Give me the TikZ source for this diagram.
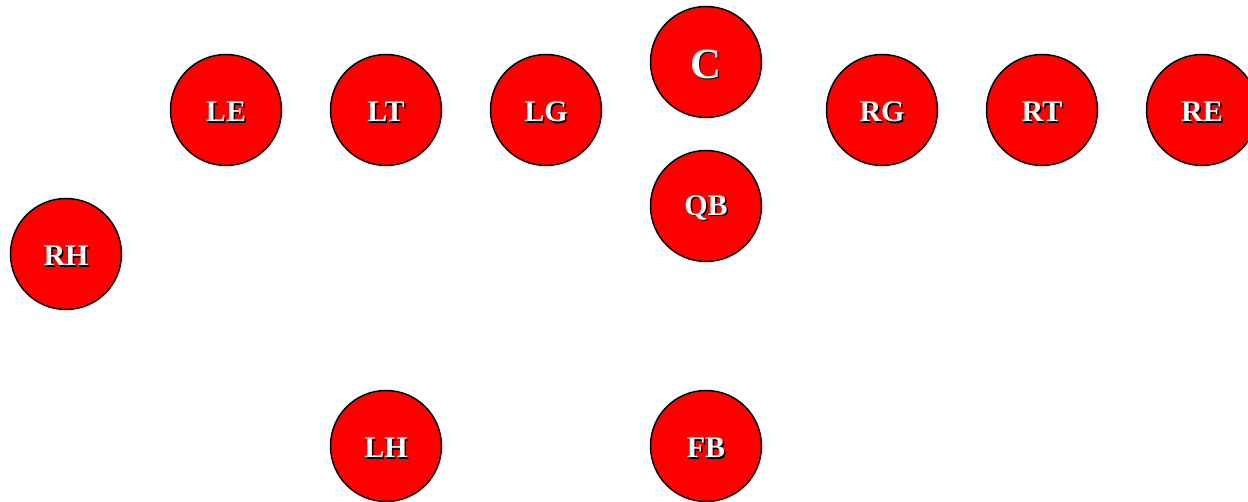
\documentclass[tikz,border=0pt]{standalone}
\usepackage{fontspec}
\setmainfont{Liberation Serif}
\begin{document}
\begin{tikzpicture}[x=1pt,y=-1pt,
  player/.style={circle,draw=black,line width=1.5pt,fill=red,minimum size=111pt,inner sep=0pt},
  lbl/.style={font=\bfseries\fontsize{30}{30}\selectfont},
  biglbl/.style={font=\bfseries\fontsize{43}{43}\selectfont}]
\useasboundingbox (0,0) rectangle (1248,502);
\newcommand\plr[4]{%
  \node[player] (#1) at (#2,#3) {};
  \node[#4,text=black] at ([shift={(1.5pt,-3.5pt)}]#1.center) {#1};
  \node[#4,text=white] at ([shift={(0pt,-2pt)}]#1.center) {#1};}
\plr{LE}{226}{110}{lbl}
\plr{LT}{386}{110}{lbl}
\plr{LG}{546}{110}{lbl}
\plr{C}{706}{62}{biglbl}
\plr{RG}{882}{110}{lbl}
\plr{RT}{1042}{110}{lbl}
\plr{RE}{1202}{110}{lbl}
\plr{QB}{706}{206}{lbl}
\plr{RH}{66}{254}{lbl}
\plr{LH}{386}{446}{lbl}
\plr{FB}{706}{446}{lbl}
\end{tikzpicture}
\end{document}
